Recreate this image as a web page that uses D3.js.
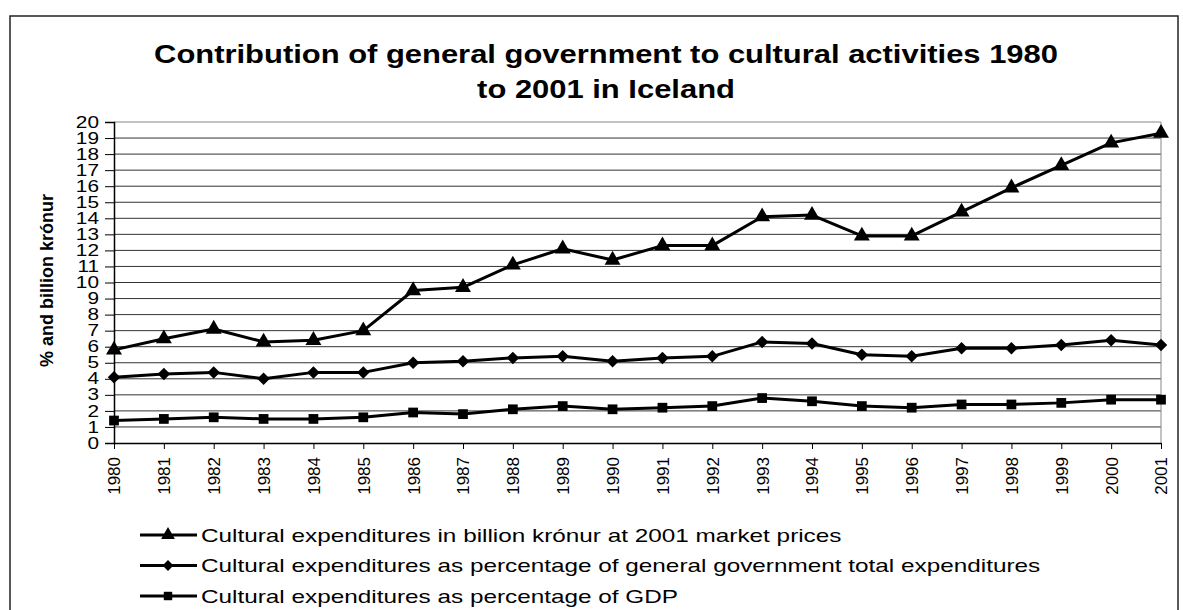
<!DOCTYPE html>
<html>
<head>
<meta charset="utf-8">
<script src="https://cdn.jsdelivr.net/npm/d3@7"></script>
<style>
  body { margin: 0; background: #fff; }
  svg { font-family: "Liberation Sans", Arial, sans-serif; }
</style>
</head>
<body>
<div id="chart"></div>
<script>
const years = d3.range(1980, 2002).map(String);
const kronur = [5.8, 6.5, 7.1, 6.3, 6.4, 7.0, 9.5, 9.7, 11.1, 12.1, 11.4, 12.3, 12.3, 14.1, 14.2, 12.9, 12.9, 14.4, 15.9, 17.3, 18.7, 19.3];
const pctGov = [4.1, 4.3, 4.4, 4.0, 4.4, 4.4, 5.0, 5.1, 5.3, 5.4, 5.1, 5.3, 5.4, 6.3, 6.2, 5.5, 5.4, 5.9, 5.9, 6.1, 6.4, 6.1];
const pctGdp = [1.4, 1.5, 1.6, 1.5, 1.5, 1.6, 1.9, 1.8, 2.1, 2.3, 2.1, 2.2, 2.3, 2.8, 2.6, 2.3, 2.2, 2.4, 2.4, 2.5, 2.7, 2.7];
const yTicks = d3.range(0, 21);
const seriesNames = [
  "Cultural expenditures in billion krónur at 2001 market prices",
  "Cultural expenditures as percentage of general government total expenditures",
  "Cultural expenditures as percentage of GDP"
];

// diamond = square turned 45 degrees, like the Excel marker
const series = [
  {name: seriesNames[0], values: kronur, symbol: d3.symbolTriangle, size: 110, rot: 0},
  {name: seriesNames[1], values: pctGov, symbol: d3.symbolSquare, size: 78, rot: 45},
  {name: seriesNames[2], values: pctGdp, symbol: d3.symbolSquare, size: 95, rot: 0}
];

const W = 1183, H = 610;
const margin = {top: 122, right: 22, bottom: 167, left: 114};
const width = W - margin.left - margin.right,
      height = H - margin.top - margin.bottom;

const svg = d3.select("#chart").append("svg")
  .attr("width", W).attr("height", H);

// outer frame
svg.append("rect")
  .attr("x", 10).attr("y", 16).attr("width", 1168).attr("height", 620)
  .attr("fill", "none").attr("stroke", "#222").attr("stroke-width", 1.5);

// title (the original is stretched a little sideways)
svg.append("text").attr("transform", "translate(606,63) scale(1.19,1)")
  .attr("text-anchor", "middle").style("font-size", "26px").style("font-weight", "bold")
  .text("Contribution of general government to cultural activities 1980");
svg.append("text").attr("transform", "translate(606,98) scale(1.19,1)")
  .attr("text-anchor", "middle").style("font-size", "26px").style("font-weight", "bold")
  .text("to 2001 in Iceland");

const g = svg.append("g").attr("transform", `translate(${margin.left},${margin.top})`);

const x = d3.scalePoint().domain(years).range([0, width]);
const y = d3.scaleLinear().domain([0, 20]).range([height, 0]);

// gridlines
g.append("g").selectAll("line")
  .data(yTicks.filter(d => d > 0))
  .enter().append("line")
  .attr("x1", 0).attr("x2", width)
  .attr("y1", d => y(d)).attr("y2", d => y(d))
  .attr("stroke", d => d === 20 ? "#888" : "#333").attr("stroke-width", 1);

// right border of plot
g.append("line").attr("x1", width).attr("x2", width)
  .attr("y1", 0).attr("y2", height).attr("stroke", "#888");

// y axis
const yAxis = g.append("g")
  .call(d3.axisLeft(y).tickValues(yTicks).tickSize(9).tickFormat(d3.format("d")));
yAxis.select(".domain").attr("stroke", "#000").attr("stroke-width", 1.5);
yAxis.selectAll("text")
  .style("font-size", "16px").attr("fill", "#000")
  .style("font-family", "Liberation Sans, Arial, sans-serif")
  .attr("x", 0).attr("transform", "translate(-15,0) scale(1.3,1)");

// x axis
const xAxis = g.append("g").attr("transform", `translate(0,${height})`)
  .call(d3.axisBottom(x).tickSize(6).tickSizeOuter(0));
xAxis.select(".domain").attr("stroke", "#000").attr("stroke-width", 1.5);
xAxis.selectAll("text")
  .style("font-size", "17px").attr("fill", "#000")
  .style("font-family", "Liberation Sans, Arial, sans-serif")
  .attr("transform", "rotate(-90)")
  .attr("x", -14).attr("y", 0).attr("dy", "0.35em")
  .style("text-anchor", "end");

// y axis title
svg.append("text")
  .attr("transform", `translate(53,${margin.top + height / 2 - 2}) rotate(-90)`)
  .attr("text-anchor", "middle").style("font-size", "18px").style("font-weight", "bold")
  .text("% and billion krónur");

// lines and markers
const line = d3.line().x((d, i) => x(years[i])).y(d => y(d));

series.forEach(s => {
  g.append("path").datum(s.values)
    .attr("d", line).attr("fill", "none")
    .attr("stroke", "#000").attr("stroke-width", 3).attr("stroke-linejoin", "round");
  g.append("g").selectAll("path")
    .data(s.values)
    .enter().append("path")
    .attr("transform", (d, i) => `translate(${x(years[i])},${y(d)}) rotate(${s.rot})`)
    .attr("d", d3.symbol().type(s.symbol).size(s.size))
    .attr("fill", "#000");
});

// legend
const legend = svg.append("g");
series.forEach((s, i) => {
  const ly = 535 + i * 30.5;
  legend.append("line").attr("x1", 140).attr("x2", 197)
    .attr("y1", ly).attr("y2", ly).attr("stroke", "#000").attr("stroke-width", 3);
  legend.append("path")
    .attr("transform", `translate(168,${ly}) rotate(${s.rot})`)
    .attr("d", d3.symbol().type(s.symbol).size(s.size * 0.75))
    .attr("fill", "#000");
  legend.append("text").attr("transform", `translate(201,${ly}) scale(1.28,1)`)
    .attr("dy", "0.35em").style("font-size", "19px").text(s.name);
});
</script>
</body>
</html>
